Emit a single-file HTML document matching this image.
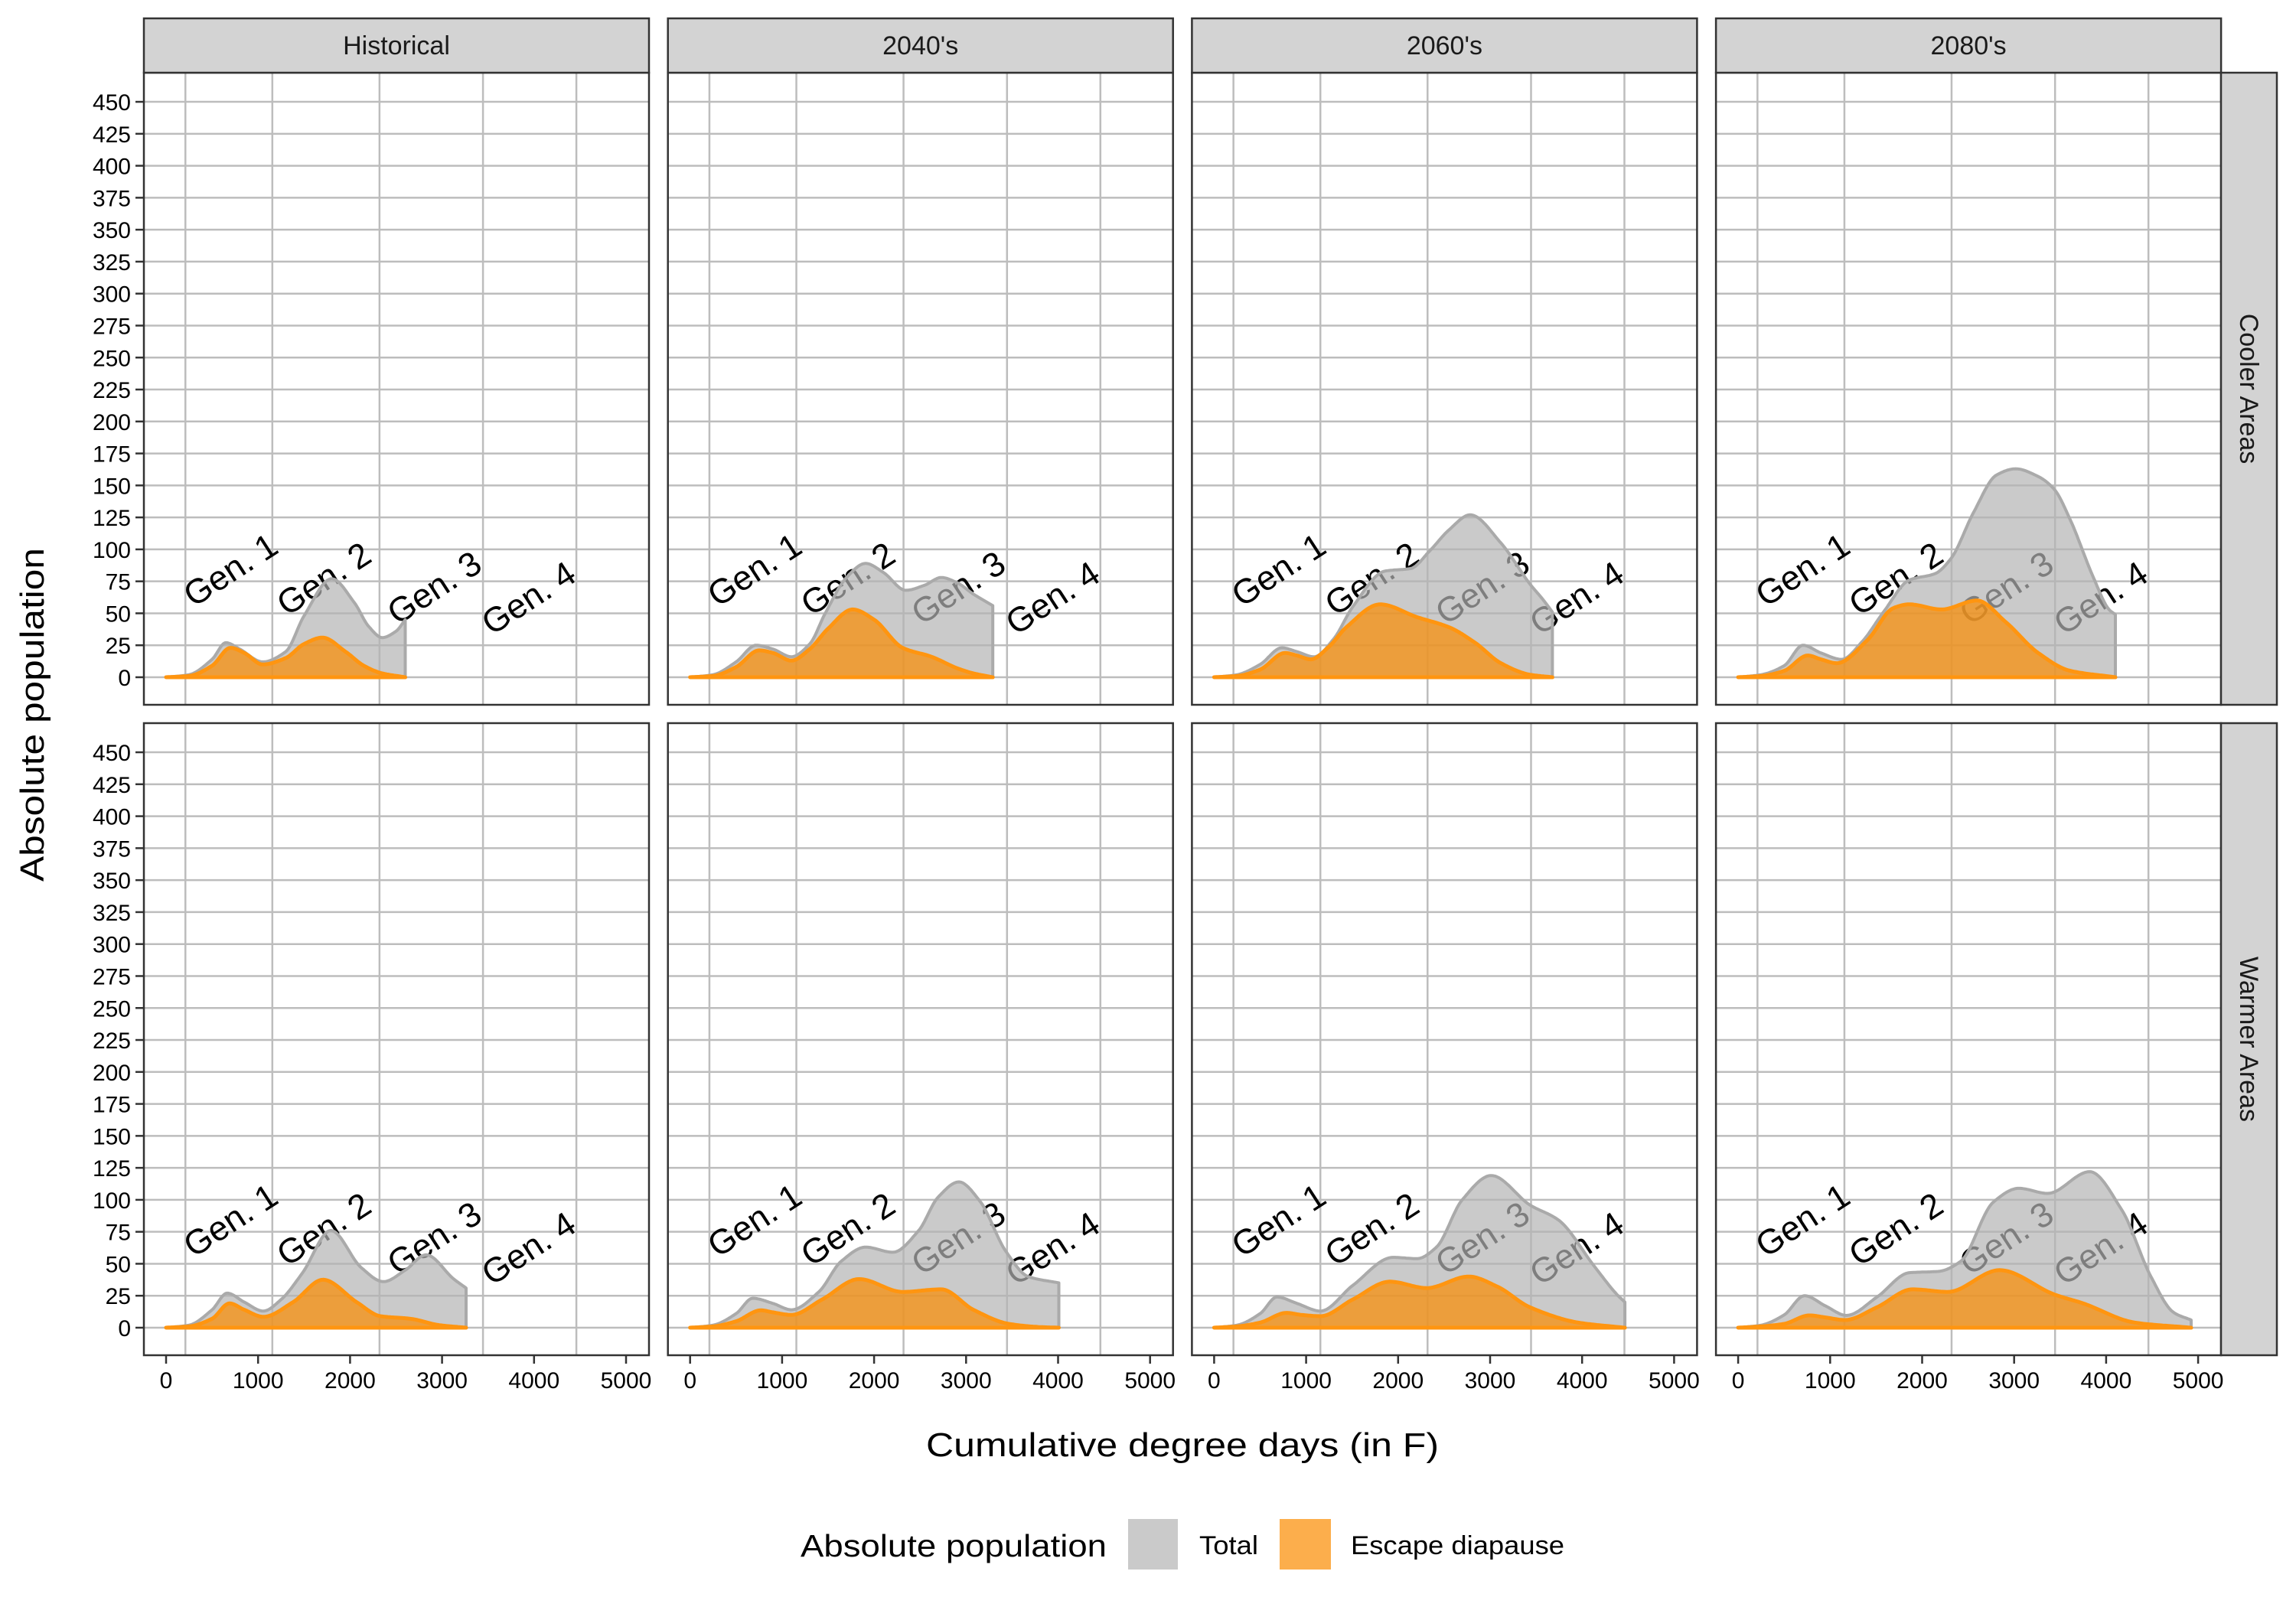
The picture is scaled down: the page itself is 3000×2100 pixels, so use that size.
<!DOCTYPE html>
<html><head><meta charset="utf-8"><style>
html,body{margin:0;padding:0;background:#fff;}
svg{display:block;font-family:"Liberation Sans",Arial,sans-serif;}
</style></head><body>
<svg id="chart" width="3000" height="2100" viewBox="0 0 3000 2100" xmlns="http://www.w3.org/2000/svg"></svg>
<script>
// ---- data (degree days -> absolute population) ----
const colLabels = ["Historical","2040's","2060's","2080's"];
const rowLabels = ["Cooler Areas","Warmer Areas"];
const xTicks = [0,1000,2000,3000,4000,5000];
const yTicks = [0,25,50,75,100,125,150,175,200,225,250,275,300,325,350,375,400,425,450];
const xGrid = [210,1155,2320,3445,4460];
const genLabels = ["Gen. 1","Gen. 2","Gen. 3","Gen. 4"];
const genX = [700,1714,2915,3940];
const genY = [84,77,70,62];

const cHistTotX=[0,250,500,650,800,1050,1300,1500,1800,2050,2200,2350,2500,2600];
const cHistTotY=[0,2,14,27,22,12,20,48,77,58,40,31,36,45];
const cHistEscX=[0,250,500,700,850,1050,1300,1500,1700,1950,2150,2350,2600];
const cHistEscY=[0,1,9,23,19,10,15,26,31,20,9,3,0];

const c40TotX=[0,250,500,716,900,1101,1300,1469,1700,1907,2100,2345,2550,2730,2900,3080,3290];
const c40TotY=[0,2,12,25,22,16,26,50,78,89,82,68,72,78,74,65,56];
const c40EscX=[0,250,500,751,900,1101,1300,1500,1767,2000,2310,2625,2905,3080,3290];
const c40EscY=[0,1,8,21,19,13,22,38,53,45,23,16,7,3,0];

const c60TotX=[0,250,500,736,900,1086,1300,1506,1856,2136,2346,2550,2784,3117,3432,3572,3677];
const c60TotY=[0,2,10,23,20,16,30,55,83,85,99,115,127,105,73,61,51];
const c60EscX=[0,250,500,771,900,1051,1250,1436,1804,2206,2557,2836,3117,3432,3677];
const c60EscY=[0,1,6,19,17,14,24,39,57,47,39,27,11,2,0];

const c80TotX=[0,250,500,705,900,1125,1350,1580,1860,2140,2315,2560,2806,3016,3261,3436,3611,3856,4031,4101];
const c80TotY=[0,2,9,25,19,14,28,51,76,81,93,129,158,163,157,147,123,79,53,49];
const c80EscX=[0,250,500,757,900,1072,1405,1685,1860,2210,2596,2911,3261,3611,4101];
const c80EscY=[0,1,5,17,14,11,29,54,57,53,60,43,19,5,0];

const wHistTotX=[0,250,500,664,850,1057,1250,1484,1791,2121,2363,2600,2826,3128,3261];
const wHistTotY=[0,2,14,27,20,13,22,43,76,47,36,45,57,38,31];
const wHistEscX=[0,250,500,690,850,1057,1381,1706,2071,2330,2654,2970,3261];
const wHistEscY=[0,1,7,19,14,8.5,20,37.5,20,9,7,2,0];

const w40TotX=[0,250,500,681,900,1101,1399,1644,1907,2204,2485,2695,2922,3150,3430,3675,4008];
const w40TotY=[0,2,11,23,19,14,28,52,63,59,76,102,114,99,60,40,35];
const w40EscX=[0,250,500,769,900,1101,1434,1837,2310,2730,3080,3465,3800,4008];
const w40EscY=[0,1,5,13.6,12,10,22,38,28,30,14,3,0.5,0];

const w60TotX=[0,250,500,683,900,1156,1506,1944,2206,2417,2697,3012,3432,3747,4133,4378,4465];
const w60TotY=[0,2,11,24,19,13,33,55,54,63,100,119,96,84,48,26,20];
const w60EscX=[0,250,500,788,950,1156,1506,1909,2312,2767,3082,3432,3958,4465];
const w60EscY=[0,1,4,11.6,10,9,22,36,31,40,32,16,4,0];

const w80TotX=[0,250,500,722,950,1177,1510,1860,2175,2421,2771,3051,3366,3821,4171,4487,4732,4924];
const w80TotY=[0,2,10,25,17,9.6,24,43,44,52,98,109,105,122,92,40,12,6];
const w80EscX=[0,250,500,775,950,1160,1510,1895,2280,2841,3436,3751,4312,4924];
const w80EscY=[0,1,3,9.6,8,6,16,30,28,45,26,19,4,0];

const panelSeries = [
 [[cHistTotX,cHistTotY,cHistEscX,cHistEscY],[c40TotX,c40TotY,c40EscX,c40EscY],[c60TotX,c60TotY,c60EscX,c60EscY],[c80TotX,c80TotY,c80EscX,c80EscY]],
 [[wHistTotX,wHistTotY,wHistEscX,wHistEscY],[w40TotX,w40TotY,w40EscX,w40EscY],[w60TotX,w60TotY,w60EscX,w60EscY],[w80TotX,w80TotY,w80EscX,w80EscY]]
];

// ---- layout ----
const NS="http://www.w3.org/2000/svg";
const svg=document.getElementById('chart');
const colLeft=[188,872.7,1557.4,2242.1];
const panelW=660, panelH=826;
const rowTop=[95,945];
const xPerUnit=0.1202, yPerUnit=1.671;
function xs(c,d){return colLeft[c]+29+d*xPerUnit;}
function ys(r,v){return rowTop[r]+790-v*yPerUnit;}
function mk(tag,attrs,parent){const e=document.createElementNS(NS,tag);for(const k in attrs)e.setAttribute(k,attrs[k]);(parent||svg).appendChild(e);return e;}

function monotone(X,Y){
  const n=X.length,d=[],m=new Array(n).fill(0);
  for(let i=0;i<n-1;i++)d.push((Y[i+1]-Y[i])/(X[i+1]-X[i]));
  m[0]=d[0];m[n-1]=d[n-2];
  for(let i=1;i<n-1;i++){ if(d[i-1]*d[i]<=0)m[i]=0; else {m[i]=2/(1/d[i-1]+1/d[i]);} }
  const pts=[];
  for(let i=0;i<n-1;i++){
    const h=X[i+1]-X[i];
    for(let s=0;s<20;s++){
      const t=s/20,t2=t*t,t3=t2*t;
      const v=(2*t3-3*t2+1)*Y[i]+(t3-2*t2+t)*h*m[i]+(-2*t3+3*t2)*Y[i+1]+(t3-t2)*h*m[i+1];
      pts.push([X[i]+t*h,Math.max(0,v)]);
    }
  }
  pts.push([X[n-1],Y[n-1]]);
  return pts;
}
function areaPath(r,c,X,Y){
  const p=monotone(X,Y);
  let d='M'+xs(c,p[0][0]).toFixed(1)+','+ys(r,0).toFixed(1);
  p.forEach(q=>{d+='L'+xs(c,q[0]).toFixed(1)+','+ys(r,q[1]).toFixed(1);});
  d+='L'+xs(c,p[p.length-1][0]).toFixed(1)+','+ys(r,0).toFixed(1)+'Z';
  return d;
}

for(let r=0;r<2;r++){
  for(let c=0;c<4;c++){
    const g=mk('g',{});
    
    
    const L=colLeft[c],T=rowTop[r];
    mk('rect',{x:L,y:T,width:panelW,height:panelH,fill:'#fff'},g);
    yTicks.forEach(v=>{const l=mk('line',{x1:L,x2:L+panelW,y1:ys(r,v),y2:ys(r,v),stroke:'#bdbdbd','stroke-width':2.5},g);
      });
    xGrid.forEach(v=>{const l=mk('line',{x1:xs(c,v),x2:xs(c,v),y1:T,y2:T+panelH,stroke:'#bdbdbd','stroke-width':2.5},g);
      });
    genLabels.forEach((s,i)=>{
      const x=xs(c,genX[i]),y=ys(r,genY[i]);
      const t=mk('text',{x:x,y:y,'text-anchor':'middle','dominant-baseline':'central','font-size':45,fill:'#000',transform:'rotate(-33 '+x+' '+y+')'},g);
      t.textContent=s;
      
      
    });
    const S=panelSeries[r][c];
    const a1=mk('path',{d:areaPath(r,c,S[0],S[1]),fill:'#b3b3b3','fill-opacity':0.7,stroke:'#aaaaaa','stroke-width':4,'stroke-linejoin':'round'},g);
    
    const a2=mk('path',{d:areaPath(r,c,S[2],S[3]),fill:'#fb8c00','fill-opacity':0.7,stroke:'#ff9510','stroke-width':5,'stroke-linejoin':'round'},g);
    
    mk('rect',{x:L,y:T,width:panelW,height:panelH,fill:'none',stroke:'#333','stroke-width':2.5},g);
    if(r===0){
      const st=mk('rect',{x:L,y:24,width:panelW,height:71,fill:'#d3d3d3',stroke:'#333','stroke-width':2.5});
      
      const tt=mk('text',{x:L+panelW/2,y:71,'text-anchor':'middle','font-size':34,fill:'#1a1a1a'});
      tt.textContent=colLabels[c];
      
    }
    if(c===0){
      yTicks.forEach(v=>{
        mk('line',{x1:L-11,x2:L,y1:ys(r,v),y2:ys(r,v),stroke:'#333','stroke-width':2.5});
        const t=mk('text',{x:L-17,y:ys(r,v)+11,'text-anchor':'end','font-size':30,fill:'#000'});
        t.textContent=v;
        
      });
    }
    if(r===1){
      xTicks.forEach(v=>{
        mk('line',{x1:xs(c,v),x2:xs(c,v),y1:T+panelH,y2:T+panelH+11,stroke:'#333','stroke-width':2.5});
        const t=mk('text',{x:xs(c,v),y:1814,'text-anchor':'middle','font-size':30,fill:'#000'});
        t.textContent=v;
        
      });
    }
  }
  const rs=mk('rect',{x:2902,y:rowTop[r],width:73,height:panelH,fill:'#d3d3d3',stroke:'#333','stroke-width':2.5});
  
  const cy=rowTop[r]+panelH/2;
  const rt=mk('text',{x:2938,y:cy,'text-anchor':'middle','dominant-baseline':'central','font-size':34,fill:'#1a1a1a',transform:'rotate(90 2938 '+cy+')'});
  rt.textContent=rowLabels[r];
  
}
</script>
<script>
// static titles & legend
(function(){
const NS="http://www.w3.org/2000/svg",svg=document.getElementById('chart');
function mk(tag,attrs){const e=document.createElementNS(NS,tag);for(const k in attrs)e.setAttribute(k,attrs[k]);svg.appendChild(e);return e;}
let t=mk('text',{x:1545,y:1903,'text-anchor':'middle','font-size':44,fill:'#000',textLength:670,lengthAdjust:'spacingAndGlyphs'});
t.textContent='Cumulative degree days (in F)';


t=mk('text',{x:0,y:0,'text-anchor':'middle','font-size':44,fill:'#000',textLength:436,lengthAdjust:'spacingAndGlyphs',transform:'translate(57 934) rotate(-90)'});
t.textContent='Absolute population';


t=mk('text',{x:1046,y:2034,'font-size':41,fill:'#000',textLength:400,lengthAdjust:'spacingAndGlyphs'});
t.textContent='Absolute population';


let r=mk('rect',{x:1474,y:1985,width:65,height:66,fill:'#b3b3b3','fill-opacity':0.7});


t=mk('text',{x:1567,y:2031,'font-size':34,fill:'#000',textLength:77,lengthAdjust:'spacingAndGlyphs'});
t.textContent='Total';


r=mk('rect',{x:1672,y:1985,width:67,height:66,fill:'#fb8c00','fill-opacity':0.7});


t=mk('text',{x:1765,y:2031,'font-size':34,fill:'#000',textLength:279,lengthAdjust:'spacingAndGlyphs'});
t.textContent='Escape diapause';


})();
</script>
</body></html>
